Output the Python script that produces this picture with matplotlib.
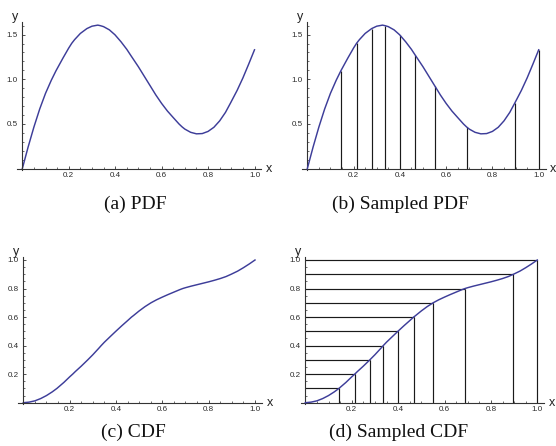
import matplotlib
matplotlib.use("Agg")
import matplotlib.pyplot as plt
from matplotlib.ticker import MultipleLocator

# ---------------- data ----------------
pdf_x = [0.000, 0.025, 0.050, 0.075, 0.100, 0.125, 0.150, 0.175, 0.200, 0.225,
         0.250, 0.275, 0.300, 0.325, 0.350, 0.375, 0.400, 0.425, 0.450, 0.475,
         0.500, 0.525, 0.550, 0.575, 0.600, 0.625, 0.650, 0.675, 0.700, 0.725,
         0.750, 0.775, 0.800, 0.825, 0.850, 0.875, 0.900, 0.925, 0.950, 0.975, 1.000]
pdf_y = [0.000, 0.242, 0.466, 0.668, 0.843, 0.990, 1.120, 1.237, 1.350, 1.443,
         1.513, 1.563, 1.594, 1.606, 1.589, 1.553, 1.495, 1.420, 1.335, 1.237,
         1.140, 1.035, 0.930, 0.825, 0.730, 0.645, 0.572, 0.500, 0.443, 0.407,
         0.390, 0.393, 0.417, 0.463, 0.535, 0.630, 0.750, 0.875, 1.015, 1.170, 1.330]

cdf_x = pdf_x
cdf_y = [0.000, 0.004, 0.013, 0.029, 0.050, 0.076, 0.107, 0.142, 0.181, 0.219,
         0.256, 0.296, 0.336, 0.380, 0.424, 0.463, 0.501, 0.539, 0.575, 0.610,
         0.643, 0.673, 0.699, 0.721, 0.740, 0.758, 0.775, 0.792, 0.806, 0.817,
         0.827, 0.837, 0.847, 0.858, 0.870, 0.884, 0.902, 0.922, 0.946, 0.972, 1.000]

sample_x = [0.145, 0.213, 0.278, 0.336, 0.399, 0.467, 0.551, 0.688, 0.897, 1.000]
sample_pdf = [1.095, 1.403, 1.567, 1.600, 1.498, 1.268, 0.926, 0.468, 0.736, 1.330]
sample_cdf = [0.1, 0.2, 0.3, 0.4, 0.5, 0.6, 0.7, 0.8, 0.9, 1.0]

pdf_ticks = [0.5, 1.0, 1.5]
cdf_ticks = [0.2, 0.4, 0.6, 0.8, 1.0]
x_ticks = [0.2, 0.4, 0.6, 0.8, 1.0]
captions = ["(a) PDF", "(b) Sampled PDF", "(c) CDF", "(d) Sampled CDF"]

# ---------------- styling ----------------
W, H = 556, 446
CURVE = "#3d3d99"
AXC = "#333333"
fig = plt.figure(figsize=(W / 100, H / 100), dpi=100)


def merged(xs, ys, sx, sy):
    """Curve through the read grid values and the read sample points."""
    pts = sorted(list(zip(sx, sy)) + list(zip(xs, ys)))
    keep = []
    for p in pts:
        near = any(abs(p[0] - s) < 0.006 for s in sx)
        if near and p[0] not in sx:
            continue
        if keep and abs(keep[-1][0] - p[0]) < 1e-9:
            continue
        keep.append(p)
    return [p[0] for p in keep], [p[1] for p in keep]


def make_axes(ox, oy, x1px, yunit, xlim, ylim, yticks, yminor):
    xunit = x1px - ox
    left = ox + xlim[0] * xunit
    right = ox + xlim[1] * xunit
    top = oy - ylim[1] * yunit
    bot = oy - ylim[0] * yunit
    ax = fig.add_axes([left / W, 1 - bot / H, (right - left) / W, (bot - top) / H])
    ax.set_xlim(xlim)
    ax.set_ylim(ylim)
    for s in ["top", "right"]:
        ax.spines[s].set_visible(False)
    for s in ["left", "bottom"]:
        ax.spines[s].set_position(("data", 0))
        ax.spines[s].set_color(AXC)
        ax.spines[s].set_linewidth(0.8)
    ax.set_xticks(x_ticks)
    ax.set_xticklabels([f"{v:.1f}" for v in x_ticks])
    ax.set_yticks(yticks)
    ax.set_yticklabels([f"{v:.1f}" for v in yticks])
    ax.xaxis.set_minor_locator(MultipleLocator(0.05))
    ax.yaxis.set_minor_locator(MultipleLocator(yminor))
    ax.tick_params(axis="both", which="major", direction="in", length=2.2, width=0.6,
                   color=AXC, labelsize=5.8, labelcolor="#2a2a2a",
                   labelfontfamily="Liberation Sans")
    ax.tick_params(axis="both", which="minor", direction="in", length=1.2, width=0.5, color=AXC)
    ax.tick_params(axis="x", which="major", pad=2.6)
    ax.tick_params(axis="y", which="major", pad=3.2)
    ax.patch.set_visible(False)
    # axis names
    ax.text(1.063, 0, "x", ha="center", va="center", fontsize=9,
            family="Liberation Sans", color="#222222", clip_on=False)
    ax.text(-0.031, ylim[1] + (ylim[1] - ylim[0]) * 0.034, "y", ha="center", va="center",
            fontsize=9, family="Liberation Sans", color="#222222", clip_on=False)
    return ax


px, py = merged(pdf_x, pdf_y, sample_x, sample_pdf)
cx, cy = merged(cdf_x, cdf_y, sample_x, sample_cdf)

# (a) PDF
axA = make_axes(22.3, 168.7, 254.5, 89.4, (-0.022, 1.03), (-0.015, 1.64), pdf_ticks, 0.1)
axA.plot(px, py, color=CURVE, lw=1.05, solid_joinstyle="round", clip_on=False)

# (b) Sampled PDF
axB = make_axes(307.3, 168.7, 538.7, 89.4, (-0.023, 1.03), (-0.015, 1.64), pdf_ticks, 0.1)
axB.plot(px, py, color=CURVE, lw=1.05, solid_joinstyle="round", clip_on=False, zorder=3)
axB.vlines(sample_x, 0, sample_pdf, color="#1a1a1a", lw=0.85, zorder=2)

# (c) CDF
axC = make_axes(23.3, 402.7, 255.0, 142.7, (-0.021, 1.03), (-0.01, 1.023), cdf_ticks, 0.05)
axC.plot(cx, cy, color=CURVE, lw=1.05, solid_joinstyle="round", clip_on=False)

# (d) Sampled CDF
axD = make_axes(305.3, 402.7, 537.3, 142.7, (-0.017, 1.03), (-0.01, 1.02), cdf_ticks, 0.05)
axD.plot(cx, cy, color=CURVE, lw=1.05, solid_joinstyle="round", clip_on=False, zorder=3)
axD.hlines(sample_cdf, 0, sample_x, color="#1a1a1a", lw=0.85, zorder=2)
axD.vlines(sample_x, 0, sample_cdf, color="#1a1a1a", lw=0.85, zorder=2)

# captions
cap_pos = [(135, 209), (400, 209), (133, 436.5), (399, 436.5)]
for txt, (cxp, cyp) in zip(captions, cap_pos):
    fig.text(cxp / W, 1 - cyp / H, txt, ha="center", va="baseline", fontsize=14,
             family="Liberation Serif", color="#111111")

fig.savefig("out.png", dpi=100)
